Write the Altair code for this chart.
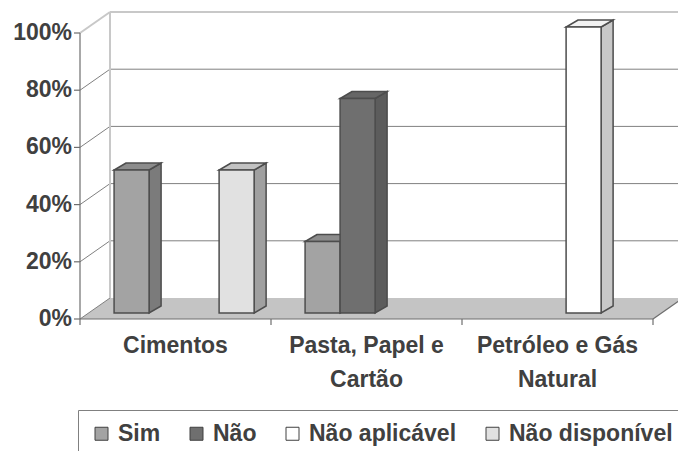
import altair as alt
import pandas as pd

# ---------------- data ----------------
categories = ["Cimentos", "Pasta, Papel e Cartão", "Petróleo e Gás Natural"]
category_lines = ["Cimentos", "Pasta, Papel e\nCartão", "Petróleo e Gás\nNatural"]
series = ["Sim", "Não", "Não aplicável", "Não disponível"]
sim = [50, 25, 0]
nao = [0, 75, 0]
nao_aplicavel = [0, 0, 100]
nao_disponivel = [50, 0, 0]
y_ticks = [0, 20, 40, 60, 80, 100]
y_tick_labels = ["0%", "20%", "40%", "60%", "80%", "100%"]

# ---------------- styles ----------------
front_colors = ["#a3a3a3", "#6f6f6f", "#ffffff", "#e1e1e1"]
side_colors = ["#7b7b7b", "#5c5c5c", "#c8c8c8", "#a0a0a0"]
top_colors = ["#8c8c8c", "#666666", "#f2f2f2", "#c2c2c2"]
OUTLINE = "#4d4d4d"
TEXT = "#404040"
FONT = "Liberation Sans"
FS = 23

# ---------------- geometry (scale set-up) ----------------
W, H = 678, 451
PX_X = 191.0   # pixels per category on the front plane
PX_Y = 2.86    # pixels per percent
AX_X, AX_Y = 80, 319
X0, X1 = -AX_X / PX_X, (W - AX_X) / PX_X
Y0, Y1 = -(H - AX_Y) / PX_Y, AX_Y / PX_Y


def ux(px):
    return px / PX_X


def uy(px):
    return px / PX_Y


DX, DY = ux(30), uy(21)      # depth of the floor / walls
FX, FY = ux(8.6), uy(6)      # front plane of the bars
BX, BY = ux(12), uy(7)       # depth of each bar
BW = 0.1833                  # bar width (category units)
GAP = (1 - 4 * BW) / 2

xs = alt.Scale(domain=[X0, X1], nice=False, zero=False)
ys = alt.Scale(domain=[Y0, Y1], nice=False, zero=False)

values = [sim, nao, nao_aplicavel, nao_disponivel]

fronts, sides, tops = [], [], []
for j, s in enumerate(series):
    for i, c in enumerate(categories):
        v = values[j][i]
        if v <= 0:
            continue
        bid = f"{i}-{j}"
        xl = i + GAP + j * BW + FX
        xr = xl + BW
        yb = FY
        yt = v + FY
        fronts.append(dict(series=s, category=c, value=v, x=xl, x2=xr, y=yb, y2=yt))
        sides.append(dict(bid=bid, fill=side_colors[j], x=xr, y=yt, y2=yb))
        sides.append(dict(bid=bid, fill=side_colors[j], x=xr + BX, y=yt + BY, y2=yb + BY))
        tops.append(dict(bid=bid, fill=top_colors[j], y=yt, x=xl, x2=xr))
        tops.append(dict(bid=bid, fill=top_colors[j], y=yt + BY, x=xl + BX, x2=xr + BX))

df_front = pd.DataFrame(fronts)
df_side = pd.DataFrame(sides)
df_top = pd.DataFrame(tops)

n = len(categories)
XR = X1 + 0.2

# floor
df_floor = pd.DataFrame([
    dict(y=0, x=0, x2=n),
    dict(y=DY, x=DX, x2=n + DX),
])

dark_lines, light_lines, axis_lines = [], [], []
for t in y_ticks:
    if 0 < t < 100:
        dark_lines.append(dict(x=DX, x2=XR, y=t + DY, y2=t + DY))
    if t < 100:
        dark_lines.append(dict(x=0, x2=DX, y=t, y2=t + DY))
    axis_lines.append(dict(x=ux(-6), x2=0, y=t, y2=t))
light_lines.append(dict(x=DX, x2=XR, y=100 + DY, y2=100 + DY))
light_lines.append(dict(x=0, x2=DX, y=100, y2=100 + DY))
light_lines.append(dict(x=DX, x2=DX, y=DY, y2=100 + DY))
axis_lines.append(dict(x=0, x2=0, y=0, y2=100))
axis_lines.append(dict(x=0, x2=n, y=0, y2=0))
axis_lines.append(dict(x=n, x2=n + DX, y=0, y2=DY))
for i in range(n + 1):
    axis_lines.append(dict(x=i, x2=i, y=0, y2=uy(-6)))

df_dark = pd.DataFrame(dark_lines)
df_light = pd.DataFrame(light_lines)
df_axis = pd.DataFrame(axis_lines)

df_ylab = pd.DataFrame(dict(x=[ux(-8)] * len(y_ticks), y=y_ticks, text=y_tick_labels))
df_xlab = pd.DataFrame(dict(x=[i + 0.5 for i in range(n)], y=[uy(-34)] * n, text=category_lines))


def enc_rule(chart):
    return chart.encode(
        x=alt.X("x:Q", scale=xs, axis=None),
        x2="x2:Q",
        y=alt.Y("y:Q", scale=ys, axis=None),
        y2="y2:Q",
    )


floor = alt.Chart(df_floor).mark_area(orient="horizontal", fill="#c4c4c4").encode(
    y=alt.Y("y:Q", scale=ys, axis=None, stack=None),
    x=alt.X("x:Q", scale=xs, axis=None),
    x2="x2:Q",
)
dark = enc_rule(alt.Chart(df_dark).mark_rule(color="#808080", strokeWidth=1))
light = enc_rule(alt.Chart(df_light).mark_rule(color="#c8c8c8", strokeWidth=2))
axes = enc_rule(alt.Chart(df_axis).mark_rule(color="#6e6e6e", strokeWidth=1.2))

side = alt.Chart(df_side).mark_area(stroke=OUTLINE, strokeWidth=1.5, strokeJoin="miter").encode(
    x=alt.X("x:Q", scale=xs, axis=None),
    y=alt.Y("y:Q", scale=ys, axis=None, stack=None),
    y2="y2:Q",
    fill=alt.Fill("fill:N", scale=None),
    detail="bid:N",
)
top = alt.Chart(df_top).mark_area(orient="horizontal", stroke=OUTLINE, strokeWidth=1.5, strokeJoin="miter").encode(
    y=alt.Y("y:Q", scale=ys, axis=None, stack=None),
    x=alt.X("x:Q", scale=xs, axis=None),
    x2="x2:Q",
    fill=alt.Fill("fill:N", scale=None),
    detail="bid:N",
)
front = alt.Chart(df_front).mark_rect(stroke=OUTLINE, strokeWidth=1.5).encode(
    x=alt.X("x:Q", scale=xs, axis=None),
    x2="x2:Q",
    y=alt.Y("y:Q", scale=ys, axis=None),
    y2="y2:Q",
    color=alt.Color(
        "series:N",
        scale=alt.Scale(domain=series, range=front_colors),
        legend=alt.Legend(
            title=None,
            orient="none",
            legendX=78,
            legendY=410,
            direction="horizontal",
            padding=12,
            strokeColor="#808080",
            fillColor="#ffffff",
            labelFont=FONT,
            labelFontSize=FS,
            labelFontWeight="bold",
            labelColor=TEXT,
            labelOffset=5,
            labelLimit=400,
            symbolType="square",
            symbolSize=169,
            symbolStrokeColor="#404040",
            symbolStrokeWidth=1,
            symbolOpacity=1,
            columnPadding=24,
        ),
    ),
    tooltip=["category:N", "series:N", "value:Q"],
)

ylab = alt.Chart(df_ylab).mark_text(
    align="right", baseline="middle", font=FONT, fontSize=FS, fontWeight="bold", color=TEXT
).encode(x=alt.X("x:Q", scale=xs, axis=None), y=alt.Y("y:Q", scale=ys, axis=None), text="text:N")

xlab = alt.Chart(df_xlab).mark_text(
    align="center", baseline="alphabetic", font=FONT, fontSize=FS, fontWeight="bold",
    color=TEXT, lineBreak="\n", lineHeight=34
).encode(x=alt.X("x:Q", scale=xs, axis=None), y=alt.Y("y:Q", scale=ys, axis=None), text="text:N")

chart = alt.layer(floor, dark, light, axes, side, top, front, ylab, xlab).properties(
    width=W, height=H, autosize=alt.AutoSizeParams(type="none"), padding=0,
    background="#ffffff",
).configure_view(stroke=None)

chart.save("out.html", embed_options={"renderer": "svg", "actions": False})
